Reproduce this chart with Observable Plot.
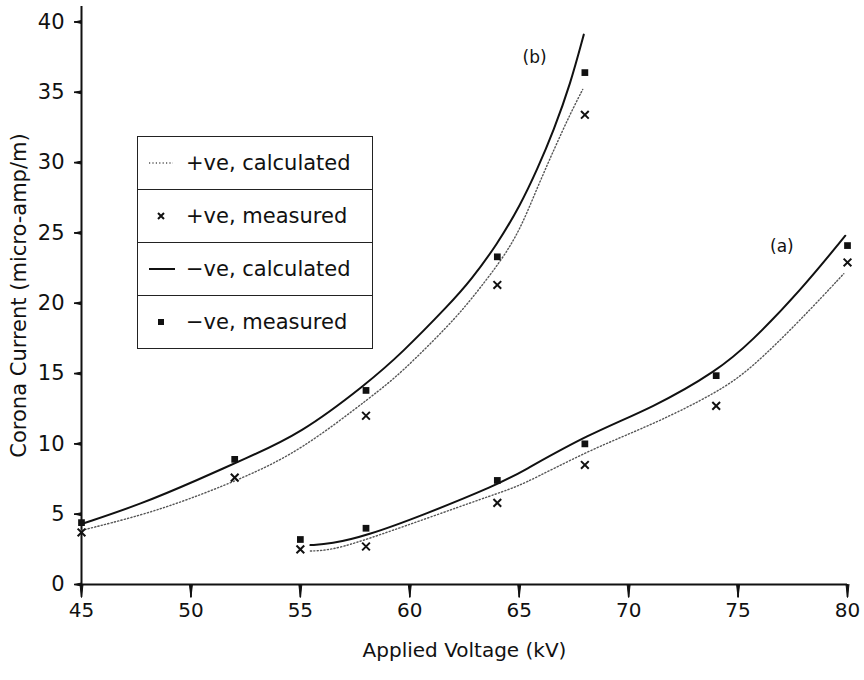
<!DOCTYPE html>
<html><head><meta charset="utf-8">
<script src="https://cdn.jsdelivr.net/npm/d3@7"></script>
<script src="https://cdn.jsdelivr.net/npm/@observablehq/plot@0.6"></script>
<style>
body{margin:0;background:#fff;}
#wrap{position:relative;width:864px;height:680px;font-family:"DejaVu Sans",sans-serif;color:#111;}
#legend{position:absolute;left:137px;top:136px;width:234px;border:1.5px solid #222;background:#fff;}
.row{display:flex;align-items:center;height:52px;border-top:1.5px solid #222;font-size:21px;white-space:nowrap;}
.row:first-child{border-top:none;}
.sym{width:48px;height:20px;flex:none;}
</style></head><body><div id="wrap"></div>
<script>
// Axis ticks
const xTicks = [45, 50, 55, 60, 65, 70, 75, 80];
const yTicks = [0, 5, 10, 15, 20, 25, 30, 35, 40];
const xDomain = [45, 80];
const yDomain = [0, 41.1];
// tick-mark extents (outside the frame, in data units)
const xTickEnd = -0.92;
const yTickEnd = 44.68;

// Curve (b): measured points
const bMeasVolt = [45, 52, 58, 64, 68];
const bPosMeas = [3.7, 7.6, 12.0, 21.3, 33.4];
const bNegMeas = [4.4, 8.9, 13.8, 23.3, 36.4];
// Curve (b): calculated
const bNegCalcVolt = [45, 47.7, 50.4, 52.4, 55.0, 58.05, 59.6, 61.86, 62.77, 64.0, 65.06, 65.82, 66.58, 67.34, 67.95];
const bNegCalc = [4.3, 5.7, 7.5, 8.9, 10.7, 14.3, 16.4, 20.0, 21.6, 24.2, 27.0, 29.5, 32.3, 35.6, 39.1];
const bPosCalcVolt = [45, 47.7, 50.0, 52.42, 55.0, 58.36, 59.58, 61.86, 62.77, 64.22, 65.06, 65.82, 66.58, 67.34, 67.9];
const bPosCalc = [3.85, 4.9, 6.1, 7.6, 9.5, 13.5, 15.0, 18.55, 20.2, 23.1, 25.3, 28.2, 30.9, 33.5, 35.2];

// Curve (a): measured points
const aMeasVolt = [55, 58, 64, 68, 74, 80];
const aPosMeas = [2.5, 2.7, 5.8, 8.5, 12.7, 22.9];
const aNegMeas = [3.2, 4.0, 7.4, 10.0, 14.85, 24.1];
// Curve (a): calculated
const aNegCalcVolt = [55.46, 56.38, 58.0, 60.64, 64.0, 65.06, 68.1, 71.15, 74.05, 75.57, 77.85, 79.9];
const aNegCalc = [2.8, 2.88, 3.45, 4.95, 7.1, 7.96, 10.65, 12.6, 15.2, 17.2, 20.9, 24.8];
const aPosCalcVolt = [55.46, 56.38, 58.0, 64.0, 65.06, 68.1, 71.15, 74.05, 75.57, 77.85, 79.83];
const aPosCalc = [2.38, 2.44, 3.15, 6.5, 7.0, 9.5, 11.4, 13.66, 15.3, 18.8, 22.1];

// Curve labels
const curveLabels = ["(b)", "(a)"];
const curveLabelVolt = [65.7, 77.0];
const curveLabelCurrent = [37.5, 24.0];

const rows = (vs, cs) => vs.map((v, i) => ({v, c: cs[i]}));

const solidStyle = {x: "v", y: "c", curve: "basis", stroke: "#111", strokeWidth: 2};
const dottedStyle = {x: "v", y: "c", curve: "basis", stroke: "#555", strokeWidth: 1.4, strokeDasharray: "1.2,2.2"};

const chart = Plot.plot({
  width: 864, height: 680,
  marginLeft: 81, marginRight: 17, marginTop: 6, marginBottom: 96,
  x: {domain: xDomain},
  y: {domain: yDomain},
  style: {fontFamily: "DejaVu Sans, sans-serif", fontSize: "20px", color: "#111", background: "#fff"},
  marks: [
    Plot.axisY(yTicks, {tickSize: 0, tickPadding: 17, fontSize: 21, fill: "#111",
      label: "Corona Current (micro-amp/m)", labelAnchor: "center", labelOffset: 70, labelArrow: "none"}),
    Plot.axisX(xTicks, {tickSize: 0, tickPadding: 18, fontSize: 20, fill: "#111",
      label: "Applied Voltage (kV)", labelAnchor: "center", labelOffset: 72, labelArrow: "none"}),
    Plot.ruleX([xDomain[0]], {y1: yDomain[0], y2: yDomain[1], stroke: "#111", strokeWidth: 2}),
    Plot.ruleY([yDomain[0]], {x1: xDomain[0], x2: xDomain[1], stroke: "#111", strokeWidth: 2}),
    // tick marks, drawn after the axes
    Plot.ruleX(xTicks, {x: d => d, y1: yDomain[0], y2: xTickEnd, stroke: "#111", strokeWidth: 1.6}),
    Plot.ruleY(yTicks, {y: d => d, x1: xDomain[0], x2: yTickEnd, stroke: "#111", strokeWidth: 1.6}),
    Plot.vector(xTicks, {x: d => d, y: yDomain[0], length: 13, rotate: 180, anchor: "start", shape: "spike", r: 1.5, fill: "#111", stroke: "#111", strokeWidth: 1}),
    Plot.vector(yTicks, {x: xDomain[0], y: d => d, length: 7, rotate: -90, anchor: "start", shape: "spike", r: 1.5, fill: "#111", stroke: "#111", strokeWidth: 1}),
    Plot.line(rows(bPosCalcVolt, bPosCalc), dottedStyle),
    Plot.line(rows(bNegCalcVolt, bNegCalc), solidStyle),
    Plot.line(rows(aPosCalcVolt, aPosCalc), dottedStyle),
    Plot.line(rows(aNegCalcVolt, aNegCalc), solidStyle),
    Plot.dot(rows(bMeasVolt, bPosMeas), {x: "v", y: "c", symbol: "times", r: 3.6, stroke: "#111", strokeWidth: 2}),
    Plot.dot(rows(aMeasVolt, aPosMeas), {x: "v", y: "c", symbol: "times", r: 3.6, stroke: "#111", strokeWidth: 2}),
    Plot.dot(rows(bMeasVolt, bNegMeas), {x: "v", y: "c", symbol: "square", r: 3.8, fill: "#111", stroke: "none"}),
    Plot.dot(rows(aMeasVolt, aNegMeas), {x: "v", y: "c", symbol: "square", r: 3.8, fill: "#111", stroke: "none"}),
    Plot.text(curveLabels, {x: (d, i) => curveLabelVolt[i], y: (d, i) => curveLabelCurrent[i], text: d => d, fontSize: 17, fill: "#111"})
  ]
});

const wrap = document.getElementById("wrap");
wrap.appendChild(chart);

const legendItems = [
  {label: "+ve, calculated", kind: "dotted"},
  {label: "+ve, measured", kind: "times"},
  {label: "\u2212ve, calculated", kind: "solid"},
  {label: "\u2212ve, measured", kind: "square"}
];
const legend = document.createElement("div");
legend.id = "legend";
for (const item of legendItems) {
  const row = document.createElement("div");
  row.className = "row";
  let sym = "";
  if (item.kind === "dotted") sym = `<line x1="11" x2="35" y1="10" y2="10" stroke="#555" stroke-width="1.4" stroke-dasharray="1.2,2.2"/>`;
  if (item.kind === "solid") sym = `<line x1="11" x2="37" y1="10" y2="10" stroke="#111" stroke-width="2"/>`;
  if (item.kind === "times") sym = `<path d="M20,7L26,13M26,7L20,13" stroke="#111" stroke-width="2"/>`;
  if (item.kind === "square") sym = `<rect x="20" y="7" width="6" height="6" fill="#111"/>`;
  row.innerHTML = `<svg class="sym" width="48" height="20">${sym}</svg><span>${item.label}</span>`;
  legend.appendChild(row);
}
wrap.appendChild(legend);
</script>
</body></html>
